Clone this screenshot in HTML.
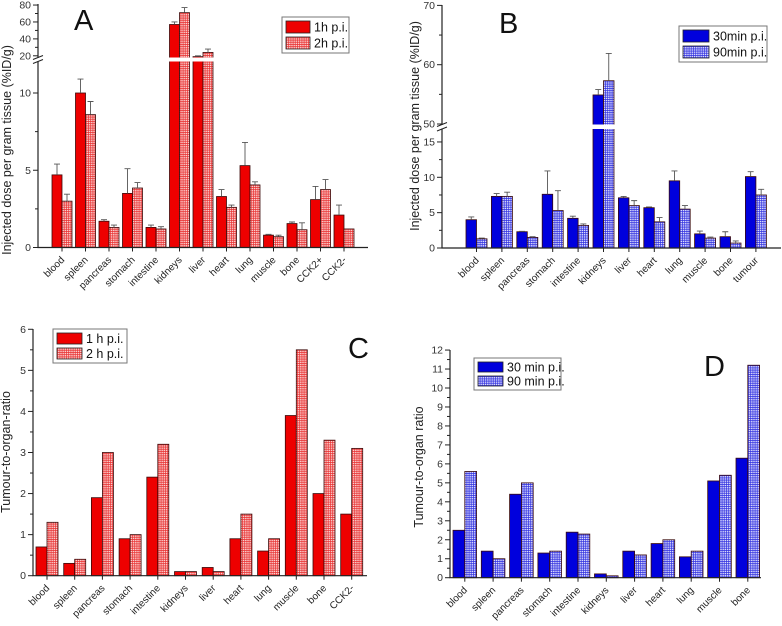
<!DOCTYPE html>
<html><head><meta charset="utf-8"><style>
html,body{margin:0;padding:0;background:#fff;}
svg{display:block;font-family:"Liberation Sans",sans-serif;}
</style></head><body>
<svg id="fig" width="782" height="626" viewBox="0 0 782 626" xmlns="http://www.w3.org/2000/svg">
<defs>
<pattern id="hatchRed" width="2.2" height="2.2" patternUnits="userSpaceOnUse">
<rect width="2.2" height="2.2" fill="#fbd0d0"/><path d="M0 0.5H2.2M0.5 0V2.2" stroke="#e83030" stroke-width="0.7"/>
</pattern>
<pattern id="hatchBlue" width="2.2" height="2.2" patternUnits="userSpaceOnUse">
<rect width="2.2" height="2.2" fill="#dcdcfc"/><path d="M0 0.5H2.2M0.5 0V2.2" stroke="#3030e0" stroke-width="0.7"/>
</pattern>
</defs>
</svg>
<script>
const catsA=["blood","spleen","pancreas","stomach","intestine","kidneys","liver","heart","lung","muscle","bone","CCK2+","CCK2-"];
const a1=[4.7,10.0,1.7,3.5,1.3,57,19,3.3,5.3,0.8,1.55,3.1,2.1];
const a1Err=[0.7,0.9,0.1,1.6,0.15,3,1,0.45,1.5,0.05,0.1,0.85,0.65];
const a2=[3.0,8.6,1.3,3.85,1.2,71,24,2.6,4.05,0.7,1.15,3.75,1.2];
const a2Err=[0.45,0.85,0.15,0.35,0.15,6,4,0.15,0.2,0.1,0.45,0.65,0];
const catsB=["blood","spleen","pancreas","stomach","intestine","kidneys","liver","heart","lung","muscle","bone","tumour"];
const b1=[4.0,7.3,2.3,7.6,4.2,54.9,7.1,5.7,9.5,2.0,1.6,10.1];
const b1Err=[0.4,0.4,0.05,3.3,0.3,0.9,0.2,0.1,1.4,0.4,0.7,0.7];
const b2=[1.3,7.3,1.5,5.3,3.2,57.3,6.0,3.7,5.5,1.4,0.7,7.5];
const b2Err=[0.1,0.6,0.1,2.8,0.2,4.6,0.7,0.6,0.5,0.15,0.3,0.8];
const catsC=["blood","spleen","pancreas","stomach","intestine","kidneys","liver","heart","lung","muscle","bone","CCK2-"];
const c1=[0.7,0.3,1.9,0.9,2.4,0.1,0.2,0.9,0.6,3.9,2.0,1.5];
const c2=[1.3,0.4,3.0,1.0,3.2,0.1,0.1,1.5,0.9,5.5,3.3,3.1];
const catsD=["blood","spleen","pancreas","stomach","intestine","kidneys","liver","heart","lung","muscle","bone"];
const d1=[2.5,1.4,4.4,1.3,2.4,0.2,1.4,1.8,1.1,5.1,6.3];
const d2=[5.6,1.0,5.0,1.4,2.3,0.1,1.2,2.0,1.4,5.4,11.2];
const ticksA=[0,5,10]; const ticksAUp=[20,40,60,80];
const ticksB=[0,5,10,15]; const ticksBUp=[50,60,70];
const ticksC=[0,1,2,3,4,5,6];
const ticksD=[0,1,2,3,4,5,6,7,8,9,10,11,12];

const NS="http://www.w3.org/2000/svg";
const svg=document.getElementById('fig');
function mk(tag,attrs,parent){const e=document.createElementNS(NS,tag);for(const k in attrs)e.setAttribute(k,attrs[k]);(parent||svg).appendChild(e);return e;}

function panel(o){
  const g=mk('g',{});
  
  
  const y=o.y;
  // bars
  for(let i=0;i<o.cats.length;i++){
    const x=o.x0+i*o.step;
    [[o.s1,o.e1,o.solid],[o.s2,o.e2,o.hatch]].forEach((s,j)=>{
      const v=s[0][i];const bx=x+j*o.bw;
      const r=mk('rect',{x:bx,y:y(v),width:o.bw,height:o.yBase-y(v),fill:s[2],stroke:'#3a0a0a','stroke-width':0.8},g);
      
      
      if(s[1]&&s[1][i]>0){
        const cx=bx+o.bw/2,yt=y(v+s[1][i]);
        const eb=mk('path',{d:`M${cx} ${y(v)}V${yt}M${cx-3} ${yt}H${cx+3}`,stroke:'#555','stroke-width':0.9,fill:'none'},g);
        
        
      }
    });
    const lx=x+o.bw, t=mk('text',{x:0,y:0,'font-size':10,fill:'#222','text-anchor':'end',transform:`translate(${lx+3},${o.yBase+13}) rotate(-45)`},g);
    t.textContent=o.cats[i];
    
    
    mk('line',{x1:lx,x2:lx,y1:o.yBase,y2:o.yBase+4,stroke:'#222','stroke-width':1},g);
  }
  if(o.gap){const gr=mk('rect',{x:o.ax+1,y:o.gap[0],width:o.axEnd-o.ax,height:o.gap[1]-o.gap[0],fill:'#fff'},g);
    }
  // axes
  const ax=mk('path',{d:`M${o.ax} ${o.yTop}V${o.yBase}H${o.axEnd}`,stroke:'#222','stroke-width':1.2,fill:'none'},g);
  
  if(o.gap){mk('rect',{x:o.ax-2,y:o.gap[0]+0.5,width:4,height:o.gap[1]-o.gap[0]-1,fill:'#fff'},g);
    mk('path',{d:`M${o.ax-5} ${o.gap[0]+2}L${o.ax+5} ${o.gap[0]-2}M${o.ax-5} ${o.gap[1]+2}L${o.ax+5} ${o.gap[1]-2}`,stroke:'#222','stroke-width':1},g);}
  o.ticks.forEach(v=>{const ty=y(v);
    mk('line',{x1:o.ax-5,x2:o.ax,y1:ty,y2:ty,stroke:'#222'},g);
    const t=mk('text',{x:o.ax-7,y:ty+3.5,'font-size':10.5,fill:'#333','text-anchor':'end'},g);t.textContent=v;
    });
  (o.minor||[]).forEach(v=>{const ty=y(v);mk('line',{x1:o.ax-3,x2:o.ax,y1:ty,y2:ty,stroke:'#222'},g);});
  const yl=mk('text',{x:0,y:0,'font-size':12.5,fill:'#222','text-anchor':'middle',transform:`translate(${o.ylx},${o.yly}) rotate(-90)`},g);
  yl.textContent=o.ylabel;
  const ttl=mk('text',{x:o.tx,y:o.ty,'font-size':29,fill:'#111'},g);ttl.textContent=o.title;
  
  // legend
  const L=o.leg;const lg=mk('g',{},g);
  
  mk('rect',{x:L[0],y:L[1],width:L[2],height:L[3],fill:'#fff',stroke:'#777','stroke-width':1},lg);
  [[o.solid,o.l1],[o.hatch,o.l2]].forEach((s,j)=>{
    const ey=L[1]+4+j*(L[3]-4)/2;
    mk('rect',{x:L[0]+4,y:ey,width:L[4],height:(L[3]-12)/2,fill:s[0],stroke:'#222','stroke-width':0.8},lg);
    const t=mk('text',{x:L[0]+L[4]+8,y:ey+(L[3]-12)/4+4.5,'font-size':12.5,fill:'#111'},lg);t.textContent=s[1];
    
  });
}
// A
function yA(v){return v<=12.15?247.5-v*15.45:55.8-(v-20)*0.846;}
panel({name:'panel-a',cats:catsA,s1:a1,e1:a1Err,s2:a2,e2:a2Err,x0:52,step:23.5,bw:10,y:yA,yBase:247.5,yTop:4,ax:38,axEnd:368,
 gap:[57.5,61.5],ticks:ticksA.concat(ticksAUp),minor:[2.5,7.5,30,50,70],solid:'#ee0000',hatch:'url(#hatchRed)',
 ylabel:'Injected dose per gram tissue (%ID/g)',ylx:11,yly:150,title:'A',tx:74,ty:30,leg:[282,17,67,36,24],l1:'1h p.i.',l2:'2h p.i.'});
// B
function yB(v){return v<=16.8?248-v*7.07:124-(v-50)*5.93;}
panel({name:'panel-b',cats:catsB,s1:b1,e1:b1Err,s2:b2,e2:b2Err,x0:466,step:25.4,bw:10.5,y:yB,yBase:248,yTop:5,ax:442,axEnd:781,
 gap:[124.5,129],ticks:ticksB.concat(ticksBUp),minor:[2.5,7.5,12.5,55,65],solid:'#0000dd',hatch:'url(#hatchBlue)',
 ylabel:'Injected dose per gram tissue (%ID/g)',ylx:419,yly:126,title:'B',tx:499,ty:33,leg:[679,26,88,36,26],l1:'30min p.i.',l2:'90min p.i.'});
// C
function yC(v){return 575.7-v*41.07;}
panel({name:'panel-c',cats:catsC,s1:c1,e1:null,s2:c2,e2:null,x0:36,step:27.7,bw:11,y:yC,yBase:575.7,yTop:329,ax:33,axEnd:367,
 ticks:ticksC,minor:[0.5,1.5,2.5,3.5,4.5,5.5],solid:'#ee0000',hatch:'url(#hatchRed)',
 ylabel:'Tumour-to-organ-ratio',ylx:10,yly:452,title:'C',tx:348,ty:358,leg:[53,329,74,34,25],l1:'1 h p.i.',l2:'2 h p.i.'});
// D
function yD(v){return 577.7-v*18.97;}
panel({name:'panel-d',cats:catsD,s1:d1,e1:null,s2:d2,e2:null,x0:453,step:28.3,bw:11.8,y:yD,yBase:577.7,yTop:350,ax:450,axEnd:761,
 ticks:ticksD,minor:[0.5,1.5,2.5,3.5,4.5,5.5,6.5,7.5,8.5,9.5,10.5,11.5],solid:'#0000dd',hatch:'url(#hatchBlue)',
 ylabel:'Tumour-to-organ ratio',ylx:423,yly:467,title:'D',tx:704,ty:376,leg:[474,358,87,32,25],l1:'30 min p.i.',l2:'90 min p.i.'});
</script>
</body></html>
